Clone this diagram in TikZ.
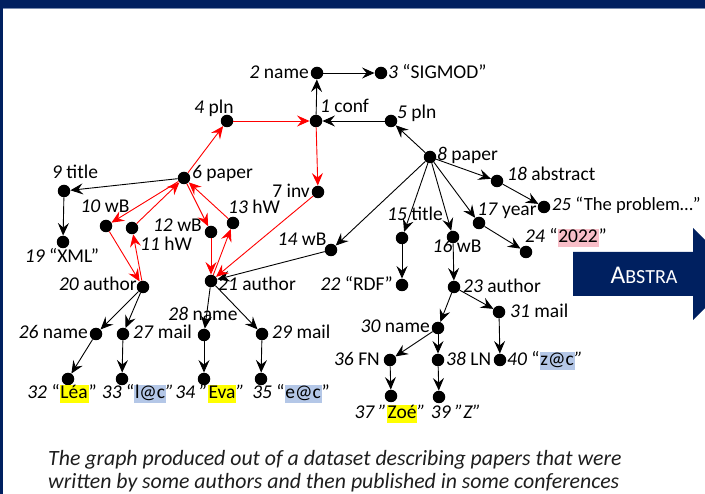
\documentclass[tikz,border=0pt]{standalone}
\usepackage{fontspec}
\setmainfont{Carlito}
\usetikzlibrary{arrows.meta}
\definecolor{navy}{RGB}{0,32,96}
\definecolor{barline}{RGB}{120,140,175}
\definecolor{hlyellow}{RGB}{255,255,0}
\definecolor{hlblue}{RGB}{180,199,231}
\definecolor{hlpink}{RGB}{248,190,200}
\definecolor{captiontext}{RGB}{30,30,30}
% highlighted literal value
\newcommand{\hlbox}[2]{{\setlength{\fboxsep}{0pt}\colorbox{#1}{\rule[-3.8pt]{0pt}{18pt}\hspace{0.8pt}#2\hspace{0.8pt}}}}
\begin{document}
\begin{tikzpicture}[x=1pt,y=-1pt,
  dot/.style={circle,fill=black,inner sep=0pt,minimum size=12.5pt},
  lbl/.style={inner sep=0pt,font=\fontsize{19.5}{23}\selectfont},
  arr/.style={line width=0.9pt,-{Stealth[length=12.5pt,width=11pt,inset=4.5pt]}},
  rarr/.style={arr,red}]
\useasboundingbox (0,0) rectangle (705,494);
\begin{scope}
\clip (0,0) rectangle (705,494);
\fill[white] (0,0) rectangle (705,494);
% slide frame
\fill[navy] (0,0) rectangle (705,8);
\fill[barline] (0,8) rectangle (705,9);
\fill[navy] (0,0) rectangle (2.8,494);
% block arrow on the right
\fill[navy] (573,252) -- (693,252) -- (693,228) -- (739,274) -- (693,320) -- (693,296) -- (573,296) -- cycle;
\node[text=white,inner sep=0pt] (abstra) at (644,275)
  {{\fontsize{25.5}{28}\selectfont A}{\fontsize{20}{22}\selectfont BSTRA}};
\end{scope}

% graph vertices
\node[dot] (n1) at (316,121) {};
\node[dot] (n2) at (317,73) {};
\node[dot] (n3) at (381,73) {};
\node[dot] (n4) at (227,121) {};
\node[dot] (n5) at (391,121) {};
\node[dot] (n6) at (184,178) {};
\node[dot] (n7) at (318,192) {};
\node[dot] (n8) at (430,157) {};
\node[dot] (n9) at (64,191) {};
\node[dot] (n19) at (63,242) {};
\node[dot] (n10) at (106,226) {};
\node[dot] (n11) at (132,228) {};
\node[dot] (n12) at (211,232) {};
\node[dot] (n13) at (233,223) {};
\node[dot] (n20) at (143,287) {};
\node[dot] (n21) at (211,281) {};
\node[dot] (n14) at (331,250) {};
\node[dot] (n15) at (402,238) {};
\node[dot] (n16) at (453,237) {};
\node[dot] (n17) at (479,223) {};
\node[dot] (n18) at (497,181) {};
\node[dot] (n25) at (544,207) {};
\node[dot] (n24) at (526,252) {};
\node[dot] (n22) at (402,285) {};
\node[dot] (n23) at (454,287) {};
\node[dot] (n26) at (96,334) {};
\node[dot] (n27) at (123,334) {};
\node[dot] (n28) at (204,335) {};
\node[dot] (n29) at (262,334) {};
\node[dot] (n32) at (68,379) {};
\node[dot] (n33) at (122,379) {};
\node[dot] (n34) at (204,379) {};
\node[dot] (n35) at (261,379) {};
\node[dot] (n30) at (438,328) {};
\node[dot] (n31) at (499,312) {};
\node[dot] (n36) at (390,360) {};
\node[dot] (n38) at (438,360) {};
\node[dot] (n40) at (500,360) {};
\node[dot] (n37) at (391,396) {};
\node[dot] (n39) at (439,397) {};

% vertex labels
\node[lbl,anchor=base east] (t2) at (309,79) {\textit{2} name};
\node[lbl,anchor=base west] (t3) at (388,79) {\textit{3} “SIGMOD”};
\node[lbl,anchor=base west] (t1) at (320,113) {\textit{1} conf};
\node[lbl,anchor=base west] (t5) at (397,119) {\textit{5} pln};
\node[lbl,anchor=base] (t4) at (214,114) {\textit{4} pln};
\node[lbl,anchor=base west] (t6) at (192,179) {\textit{6} paper};
\node[lbl,anchor=base east] (t7) at (310,198) {7 inv};
\node[lbl,anchor=base west] (t8) at (437,161) {\textit{8} paper};
\node[lbl,anchor=base] (t9) at (75,179) {\textit{9} title};
\node[lbl,anchor=base] (t19) at (62,263) {\textit{19} “XML”};
\node[lbl,anchor=base] (t10) at (105,213) {\textit{10} wB};
\node[lbl,anchor=base west] (t11) at (140,251) {\textit{11} hW};
\node[lbl,anchor=base east] (t12) at (202,232) {\textit{12} wB};
\node[lbl,anchor=base] (t13) at (254,214) {\textit{13} hW};
\node[lbl,anchor=base] (t14) at (302,246) {\textit{14} wB};
\node[lbl,anchor=base] (t15) at (415,221) {\textit{15} title};
\node[lbl,anchor=base] (t16) at (457,253) {\textit{16} wB};
\node[lbl,anchor=base] (t17) at (507,216) {\textit{17} year};
\node[lbl,anchor=base west] (t18) at (507,181) {\textit{18} abstract};
\node[lbl,anchor=base west,font=\fontsize{18.6}{22}\selectfont] (t25) at (552,211) {\textit{25} “The problem…”};
\node[lbl,anchor=base west] (t24) at (525,243) {\textit{24} “\hlbox{hlpink}{2022}”};
\node[lbl,anchor=base east] (t22) at (393,291) {\textit{22} “RDF”};
\node[lbl,anchor=base west] (t23) at (463,293) {\textit{23} author};
\node[lbl,anchor=base east] (t20) at (137,291) {\textit{20} author};
\node[lbl,anchor=base west] (t21) at (218,291) {\textit{21} author};
\node[lbl,anchor=base east] (t26) at (88,339) {\textit{26} name};
\node[lbl,anchor=base west] (t27) at (133,339) {\textit{27} mail};
\node[lbl,anchor=base] (t28) at (203,321) {\textit{28} name};
\node[lbl,anchor=base west] (t29) at (272,339) {\textit{29} mail};
\node[lbl,anchor=base] (t32) at (62,399) {\textit{32} “\hlbox{hlyellow}{Léa}”};
\node[lbl,anchor=base] (t33) at (138,399) {\textit{33} “\hlbox{hlblue}{l@c}\textit{"}};
\node[lbl,anchor=base] (t34) at (210,399) {\textit{34 "}\hlbox{hlyellow}{Eva}\textit{"}};
\node[lbl,anchor=base] (t35) at (291,399) {\textit{35} “\hlbox{hlblue}{e@c}”};
\node[lbl,anchor=base east] (t30) at (430,333) {\textit{30} name};
\node[lbl,anchor=base west] (t31) at (510,318) {\textit{31} mail};
\node[lbl,anchor=base east] (t36) at (380,366) {\textit{36} FN};
\node[lbl,anchor=base west] (t38) at (446,366) {\textit{38} LN};
\node[lbl,anchor=base west] (t40) at (507,366) {\textit{40} “\hlbox{hlblue}{z@c}\textit{"}};
\node[lbl,anchor=base] (t37) at (390,419) {\textit{37 "}\hlbox{hlyellow}{Zoé}\textit{"}};
\node[lbl,anchor=base] (t39) at (456,419) {\textit{39 "Z"}};

% black edges
\draw[arr] (n1) -- (n2);
\draw[arr] (n2) -- (n3);
\draw[arr] (n5) -- (n1);
\draw[arr] (n8) -- (n5);
\draw[arr] (n6) -- (n9);
\draw[arr] (n9) -- (n19);
\draw[arr] (n8) -- (n14);
\draw[arr] (n14) -- (n21);
\draw[arr] (n8) -- (n15);
\draw[arr] (n15) -- (n22);
\draw[arr] (n8) -- (n16);
\draw[arr] (n16) -- (n23);
\draw[arr] (n8) -- (n17);
\draw[arr] (n17) -- (n24);
\draw[arr] (n8) -- (n18);
\draw[arr] (n18) -- (n25);
\draw[arr] (n20) -- (n26);
\draw[arr] (n20) -- (n27);
\draw[arr] (n26) -- (n32);
\draw[arr] (n27) -- (n33);
\draw[arr] (n21) -- (n28);
\draw[arr] (n21) -- (n29);
\draw[arr] (n28) -- (n34);
\draw[arr] (n29) -- (n35);
\draw[arr] (n23) -- (n30);
\draw[arr] (n23) -- (n31);
\draw[arr] (n30) -- (n36);
\draw[arr] (n30) -- (n38);
\draw[arr] (n31) -- (n40);
\draw[arr] (n36) -- (n37);
\draw[arr] (n38) -- (n39);

% red edges
\draw[rarr] (n6) -- (n4);
\draw[rarr] (n4) -- (n1);
\draw[rarr] (n1) -- (n7);
\draw[rarr] (n7) -- (n21);
\draw[rarr] (n6) -- (n10);
\draw[rarr] (n10) -- (n20);
\draw[rarr] (n20) -- (n11);
\draw[rarr] (n11) -- (n6);
\draw[rarr] (n6) -- (n12);
\draw[rarr] (n12) -- (n21);
\draw[rarr] (n21) -- (n13);
\draw[rarr] (n13) -- (n6);

% caption
\node[anchor=base west,inner sep=0pt,text=captiontext,font=\fontsize{21.8}{26}\itshape] (cap1) at (48,466)
  {The graph produced out of a dataset describing papers that were};
\node[anchor=base west,inner sep=0pt,text=captiontext,font=\fontsize{21.8}{26}\itshape] (cap2) at (48,489)
  {written by some authors and then published in some conferences};
\end{tikzpicture}
\end{document}
